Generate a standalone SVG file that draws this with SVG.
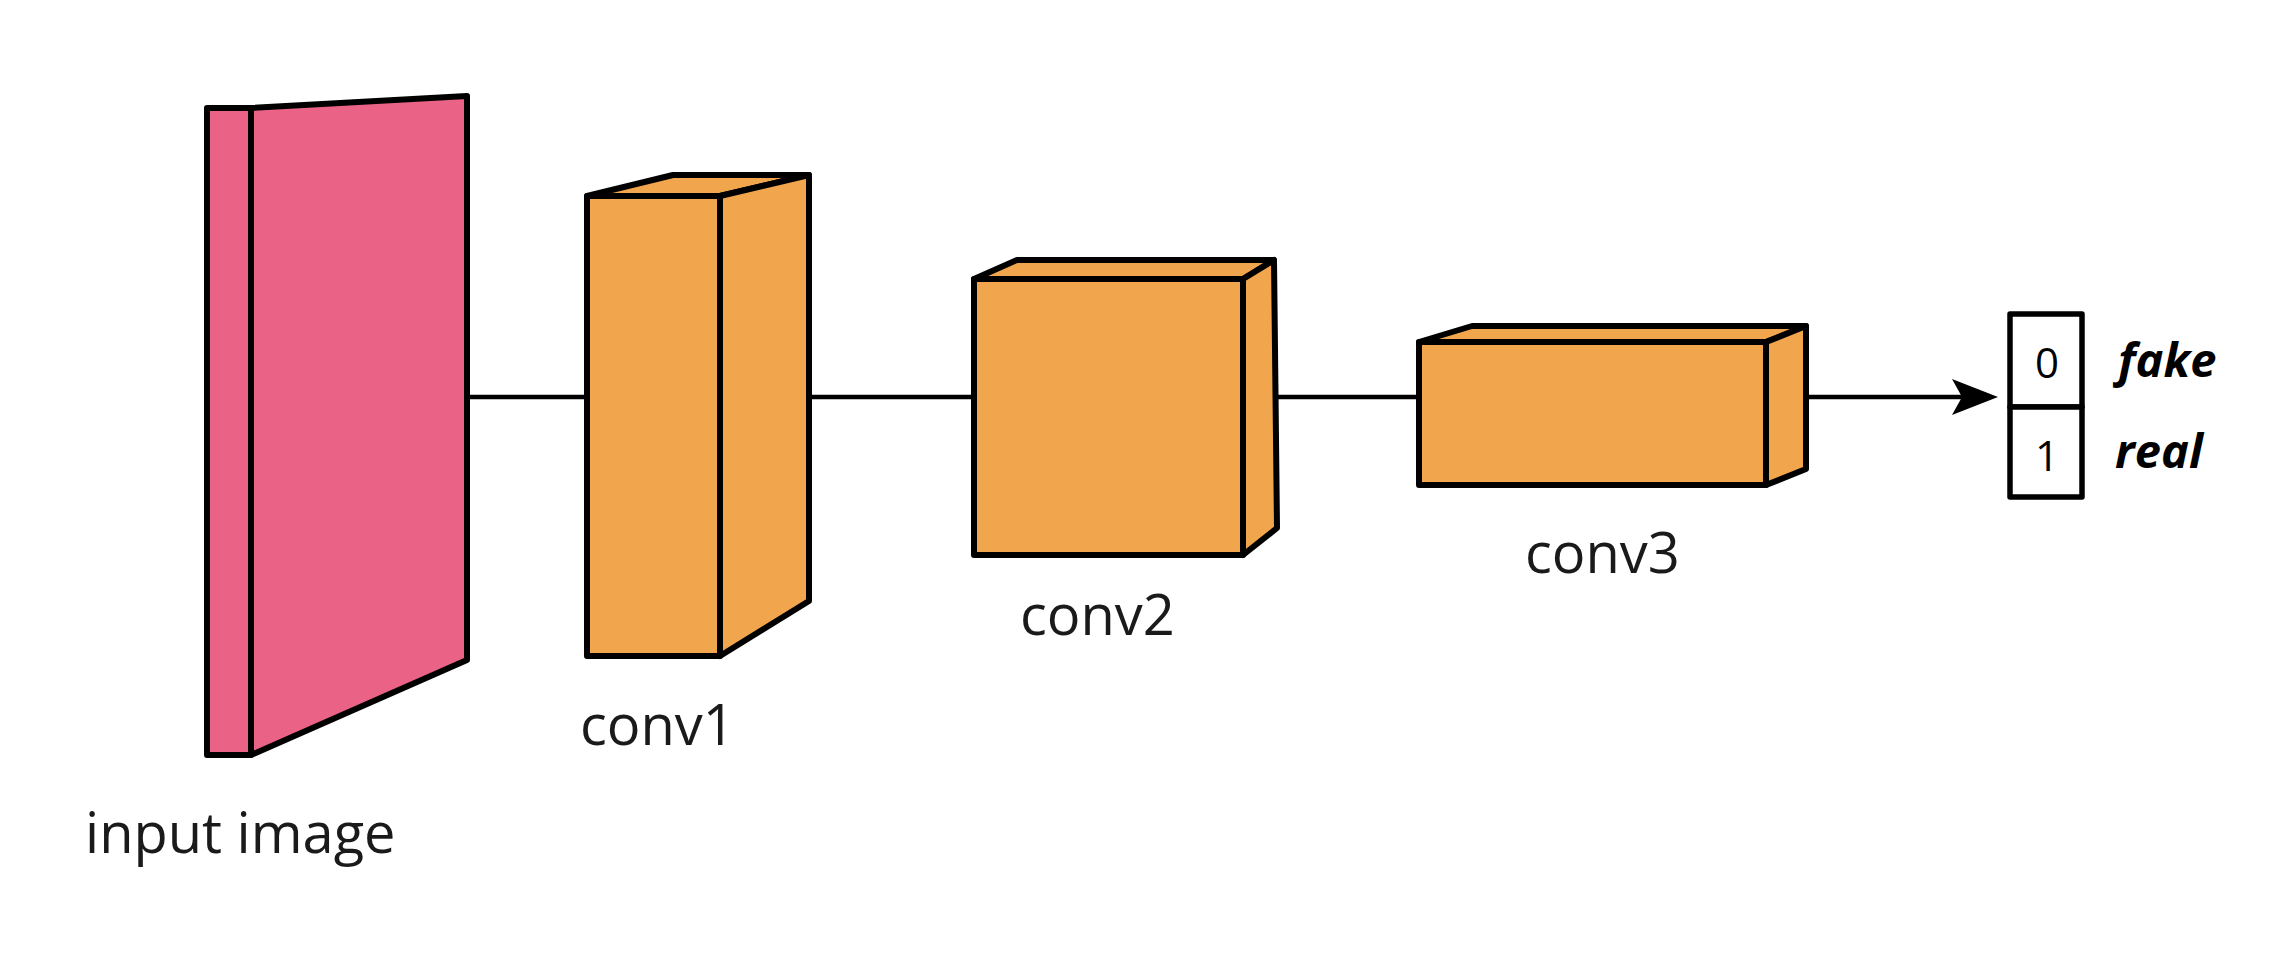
<svg xmlns="http://www.w3.org/2000/svg" width="2290" height="974" viewBox="0 0 2290 974">
<style>
.pink{fill:#EA6285;stroke:#000;stroke-width:6;stroke-linejoin:round}
.orange{fill:#F1A54D;stroke:#000;stroke-width:6;stroke-linejoin:round}
.box{fill:#fff;stroke:#000;stroke-width:5.5;stroke-linejoin:round}
.conn{fill:none;stroke:#000;stroke-width:4.5}
.label{font-family:"Open Sans","Noto Sans","DejaVu Sans",sans-serif;font-size:56px;fill:#1a1a1a}
.digit{font-family:"Open Sans","Noto Sans","DejaVu Sans",sans-serif;font-size:42px;font-weight:500;fill:#000;text-anchor:middle}
.cls{font-family:"Open Sans","Noto Sans","DejaVu Sans",sans-serif;font-size:47px;font-weight:700;font-style:italic;fill:#000}
</style>
<defs>
<marker id="arrow" viewBox="0 0 46 36" markerWidth="46" markerHeight="36" refX="10" refY="18" markerUnits="userSpaceOnUse" orient="auto">
<path d="M0,0 L46,18 L0,36 L10,18 Z" fill="#000"/>
</marker>
</defs>
<rect width="2290" height="974" fill="#fff"/>
<g id="connectors">
<line class="conn" x1="467" y1="397" x2="587" y2="397"/>
<line class="conn" x1="809" y1="397" x2="974" y2="397"/>
<line class="conn" x1="1276" y1="397" x2="1419" y2="397"/>
<line class="conn" x1="1806" y1="397" x2="1962" y2="397" marker-end="url(#arrow)"/>
</g>
<g id="input">
<polygon class="pink" points="207,108 251,108 251,755 207,755"/>
<polygon class="pink" points="251,108 467,96 467,660 251,755"/>
<text class="label" x="85" y="853">input image</text>
</g>
<g id="conv1">
<polygon class="orange" points="587,196 673,175 809,175 720,196"/>
<polygon class="orange" points="720,196 809,175 809,601 720,656"/>
<rect class="orange" x="587" y="196" width="133" height="460"/>
<text class="label" x="580" y="745">conv1</text>
</g>
<g id="conv2">
<polygon class="orange" points="974,279 1017,260 1274,260 1243,279"/>
<polygon class="orange" points="1243,279 1274,260 1277,528 1243,555"/>
<rect class="orange" x="974" y="279" width="269" height="276"/>
<text class="label" x="1020" y="635">conv2</text>
</g>
<g id="conv3">
<polygon class="orange" points="1419,342 1472,326 1806,326 1766,342"/>
<polygon class="orange" points="1766,342 1806,326 1806,469 1766,485"/>
<rect class="orange" x="1419" y="342" width="347" height="143"/>
<text class="label" x="1525" y="573">conv3</text>
</g>
<g id="output">
<rect class="box" x="2010" y="314" width="72" height="93"/>
<rect class="box" x="2010" y="407" width="72" height="90"/>
<text class="digit" x="2047" y="378">0</text>
<text class="digit" x="2047" y="471">1</text>
<text class="cls" x="2118" y="377">fake</text>
<text class="cls" x="2115" y="468">real</text>
</g>
</svg>
